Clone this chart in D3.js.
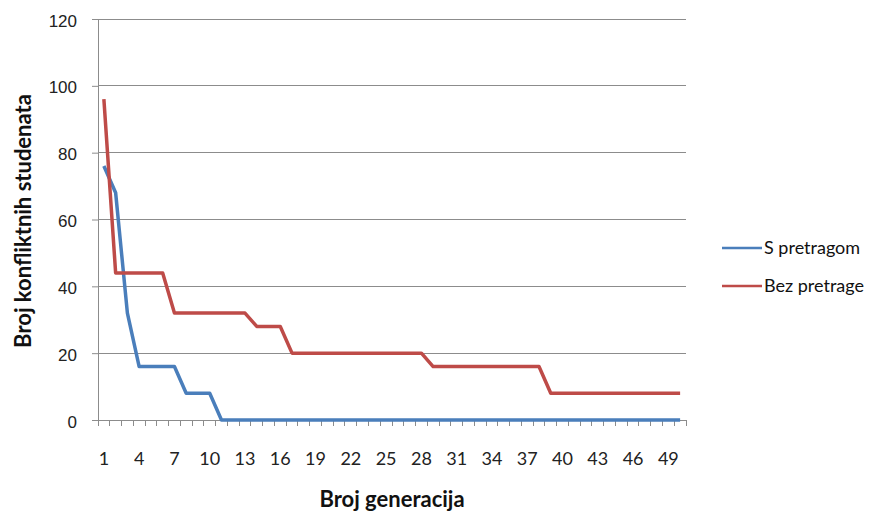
<!DOCTYPE html>
<html>
<head>
<meta charset="utf-8">
<script src="https://cdn.jsdelivr.net/npm/d3@7"></script>
<style>
  body { margin: 0; background: #fff; }
  svg { font-family: Lato, "Open Sans", sans-serif; }
</style>
</head>
<body>
<div class="chart"></div>
<script>
// generations 1..50
var generations = d3.range(1, 51);

// S pretragom
var sPretragom = [76, 68, 32, 16, 16, 16, 16, 8, 8, 8,
                  0, 0, 0, 0, 0, 0, 0, 0, 0, 0,
                  0, 0, 0, 0, 0, 0, 0, 0, 0, 0,
                  0, 0, 0, 0, 0, 0, 0, 0, 0, 0,
                  0, 0, 0, 0, 0, 0, 0, 0, 0, 0];

// Bez pretrage
var bezPretrage = [96, 44, 44, 44, 44, 44, 32, 32, 32, 32,
                   32, 32, 32, 28, 28, 28, 20, 20, 20, 20,
                   20, 20, 20, 20, 20, 20, 20, 20, 16, 16,
                   16, 16, 16, 16, 16, 16, 16, 16, 8, 8,
                   8, 8, 8, 8, 8, 8, 8, 8, 8, 8];

var yTicks = [0, 20, 40, 60, 80, 100, 120];
var seriesNames = ["S pretragom", "Bez pretrage"];
var seriesColors = ["#4A7EBB", "#BE4B48"];

var w = 873, h = 512;
var margin = {top: 19, right: 187, bottom: 92, left: 98};

var svg = d3.select("div.chart")
            .append("svg")
            .attr("width", w)
            .attr("height", h);

var x = d3.scaleBand()
          .domain(generations)
          .range([margin.left, w - margin.right]);

var y = d3.scaleLinear()
          .domain([0, 120])
          .range([h - margin.bottom, margin.top]);

//gridlines
svg.append("g")
   .selectAll("line")
   .data(yTicks.slice(1))
   .enter()
   .append("line")
     .attr("x1", margin.left)
     .attr("x2", w - margin.right)
     .attr("y1", d => y(d))
     .attr("y2", d => y(d))
     .attr("stroke", "#8c8c8c")
     .attr("stroke-width", 1)
     .attr("shape-rendering", "crispEdges");

//y axis
var yAxis = svg.append("g")
   .attr("transform", `translate(${margin.left},0)`)
   .call(d3.axisLeft(y).tickValues(yTicks).tickSize(6).tickPadding(15));
yAxis.select(".domain").attr("stroke", "#8c8c8c");
yAxis.selectAll(".tick line").attr("stroke", "#8c8c8c");
yAxis.selectAll("text")
     .attr("font-size", 17)
     .attr("dy", "0.42em")
     .attr("fill", "#222");

//x axis: ticks sit between categories
var xAxisG = svg.append("g")
   .attr("transform", `translate(0,${y(0)})`);
xAxisG.append("line")
   .attr("x1", margin.left)
   .attr("x2", w - margin.right)
   .attr("stroke", "#8c8c8c")
   .attr("shape-rendering", "crispEdges");
xAxisG.selectAll(".xtick")
   .data(generations.concat([51]))
   .enter()
   .append("line")
     .attr("class", "xtick")
     .attr("x1", d => d <= 50 ? x(d) : x(50) + x.bandwidth())
     .attr("x2", d => d <= 50 ? x(d) : x(50) + x.bandwidth())
     .attr("y1", 0)
     .attr("y2", 6)
     .attr("stroke", "#8c8c8c")
     .attr("shape-rendering", "crispEdges");
xAxisG.selectAll(".xlabel")
   .data(generations.filter(d => (d - 1) % 3 === 0))
   .enter()
   .append("text")
     .attr("class", "xlabel")
     .attr("x", d => x(d) + x.bandwidth() / 2)
     .attr("y", 45)
     .attr("text-anchor", "middle")
     .attr("font-size", 18)
     .attr("fill", "#222")
     .text(d => d);

//lines
var line = d3.line()
             .x((d, i) => x(generations[i]) + x.bandwidth() / 2)
             .y(d => y(d));

[sPretragom, bezPretrage].forEach(function(s, i){
    svg.append("path")
       .datum(s)
       .attr("d", line)
       .attr("fill", "none")
       .attr("stroke", seriesColors[i])
       .attr("stroke-width", 3.5)
       .attr("stroke-linejoin", "round");
});

//axis titles
svg.append("text")
   .attr("x", 392)
   .attr("y", 507)
   .attr("text-anchor", "middle")
   .style("font-size", "22px")
   .style("font-weight", "bold")
   .attr("fill", "#111")
   .text("Broj generacija");

svg.append("text")
   .attr("transform", "translate(31,221) rotate(-90)")
   .attr("text-anchor", "middle")
   .style("font-size", "22px")
   .style("font-weight", "bold")
   .attr("fill", "#111")
   .text("Broj konfliktnih studenata");

//legend
var legend = svg.append("g")
   .selectAll("g")
   .data(seriesNames)
   .enter()
   .append("g")
     .attr("transform", (d, i) => `translate(722,${248 + i * 38})`);
legend.append("line")
   .attr("x1", 0).attr("x2", 40)
   .attr("stroke", (d, i) => seriesColors[i])
   .attr("stroke-width", 2.5);
legend.append("text")
   .attr("x", 42)
   .attr("dy", "0.35em")
   .attr("font-size", 18)
   .attr("fill", "#111")
   .text(d => d);
</script>
</body>
</html>
